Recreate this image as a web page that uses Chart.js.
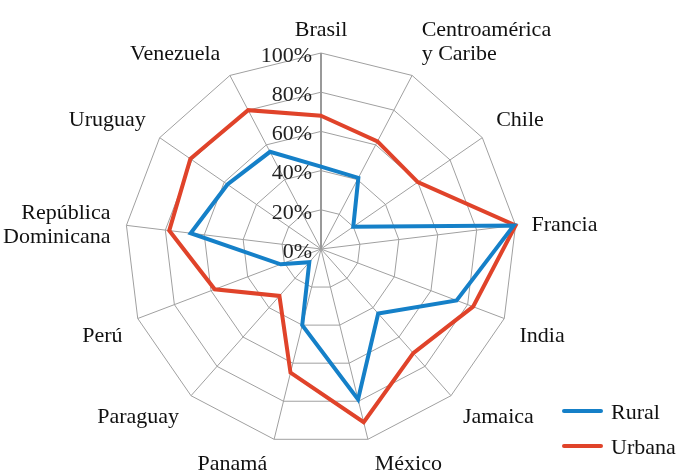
<!DOCTYPE html>
<html>
<head>
<meta charset="utf-8">
<script src="https://cdn.jsdelivr.net/npm/chart.js@4/dist/chart.umd.min.js"></script>
<style>
  html, body { margin: 0; padding: 0; background: #fff; }
  #wrap { width: 681px; height: 476px; }
</style>
</head>
<body>
<div id="wrap"><canvas id="radar_chart"></canvas></div>
<script>
var categories = [
    "Brasil", ["Centroamérica", "y Caribe"], "Chile", "Francia", "India", "Jamaica",
    "México", "Panamá", "Paraguay", "Perú", ["República", "Dominicana"], "Uruguay", "Venezuela"
];
var seriesNames = ["Rural", "Urbana"];
var rural  = [42, 41, 20, 99, 74, 44, 79, 40, 9, 22, 67, 58, 56];
var urbana = [68, 62, 60, 100, 83, 71, 91, 65, 32, 58, 78, 81, 80];
var tickValues = [0, 20, 40, 60, 80, 100];

var blue = '#1580c8';
var red = '#e0432a';
var serif = '"Liberation Serif", "DejaVu Serif", serif';

// tick labels on the left of the vertical axis
var tickPlugin = {
    id: 'tickLabels',
    afterDatasetsDraw: function (chart) {
        var s = chart.scales.r;
        var c = chart.ctx;
        c.save();
        c.font = '22px ' + serif;
        c.fillStyle = '#222';
        c.textAlign = 'right';
        c.textBaseline = 'middle';
        tickValues.forEach(function (v) {
            var d = s.getDistanceFromCenterForValue(v);
            c.fillText(v + '%', s.xCenter - 9, s.yCenter - d + 3);
        });
        c.restore();
    }
};

// category labels round the web
var labelPlugin = {
    id: 'catLabels',
    afterDraw: function (chart) {
        var s = chart.scales.r;
        var c = chart.ctx;
        var n = categories.length;
        c.save();
        c.font = '22px ' + serif;
        c.fillStyle = '#111';
        for (var i = 0; i < n; i++) {
            var a = i * 2 * Math.PI / n;
            var sn = Math.sin(a), cs = Math.cos(a);
            var p = s.getPointPosition(i, s.drawingArea + 12);
            var lines = Array.isArray(categories[i]) ? categories[i] : [categories[i]];
            var lh = 24;
            var align = Math.abs(sn) < 0.15 ? 'center' : (sn > 0 ? 'left' : 'right');
            var x = p.x + (sn > 0.15 ? 4 : (sn < -0.15 ? -4 : 0));
            var top;
            if (cs > 0.35) top = p.y - lines.length * lh;
            else if (cs < -0.35) top = p.y;
            else top = p.y - lines.length * lh / 2;
            c.textAlign = align;
            c.textBaseline = 'top';
            lines.forEach(function (t, k) {
                c.fillText(t, x, top + k * lh + 2);
            });
        }
        c.restore();
    }
};

// legend in the lower right corner
var legendPlugin = {
    id: 'cornerLegend',
    afterDraw: function (chart) {
        var c = chart.ctx;
        c.save();
        c.font = '22px ' + serif;
        c.textAlign = 'left';
        c.textBaseline = 'middle';
        chart.data.datasets.forEach(function (ds, k) {
            var y = 411 + k * 35;
            c.strokeStyle = ds.borderColor;
            c.lineWidth = 4;
            c.lineCap = 'round';
            c.beginPath();
            c.moveTo(564, y);
            c.lineTo(601, y);
            c.stroke();
            c.fillStyle = '#111';
            c.fillText(ds.label, 611, y + 2);
        });
        c.restore();
    }
};

new Chart(document.getElementById('radar_chart').getContext('2d'), {
    type: 'radar',
    data: {
        labels: categories,
        datasets: [{
            label: seriesNames[0],
            data: rural,
            borderColor: blue,
            backgroundColor: blue,
            borderWidth: 4,
            fill: false,
            pointRadius: 0
        }, {
            label: seriesNames[1],
            data: urbana,
            borderColor: red,
            backgroundColor: red,
            borderWidth: 4,
            fill: false,
            pointRadius: 0
        }]
    },
    options: {
        responsive: true,
        maintainAspectRatio: false,
        animation: false,
        layout: { padding: { left: 125, top: 53, right: 164, bottom: 31 } },
        plugins: { legend: { display: false }, tooltip: { enabled: false } },
        elements: { line: { tension: 0, borderJoinStyle: 'miter' } },
        scales: {
            r: {
                min: 0,
                max: 100,
                ticks: { display: false, stepSize: 20 },
                grid: { color: '#a0a0a0', lineWidth: 1 },
                angleLines: {
                    color: function (ctx) { return ctx.index === 0 ? '#999999' : '#a0a0a0'; },
                    lineWidth: function (ctx) { return ctx.index === 0 ? 2 : 1; }
                },
                pointLabels: { display: false }
            }
        }
    },
    plugins: [tickPlugin, labelPlugin, legendPlugin]
});
</script>
</body>
</html>
